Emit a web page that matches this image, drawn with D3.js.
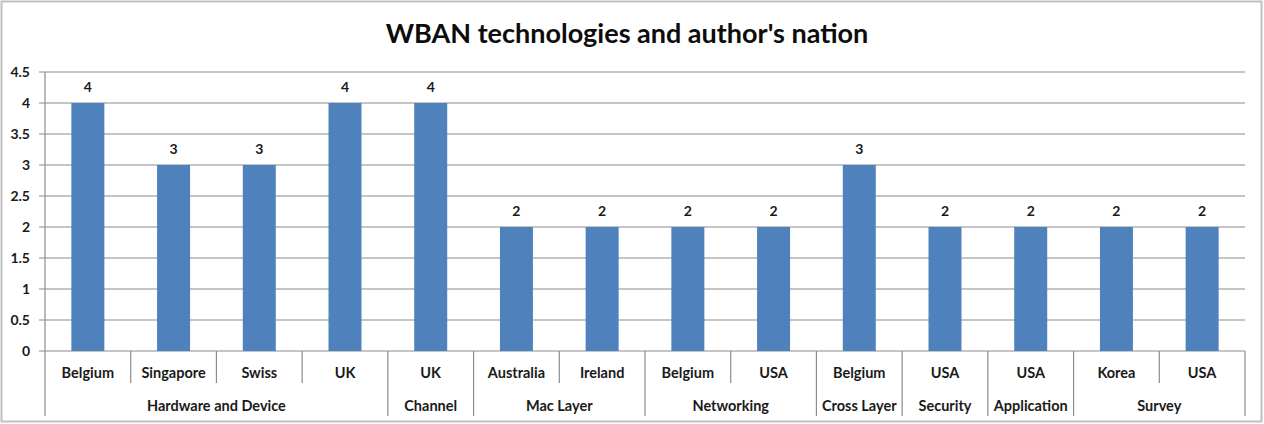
<!DOCTYPE html>
<html>
<head>
<meta charset="utf-8">
<script src="https://cdn.jsdelivr.net/npm/d3@7"></script>
<style>
  body { margin: 0; background: #fff; }
  svg { display: block; font-family: Lato, "Open Sans", sans-serif; }
</style>
</head>
<body>
<svg id="chart" width="1264" height="424"></svg>
<script>
  var nations = ['Belgium', 'Singapore', 'Swiss', 'UK', 'UK', 'Australia', 'Ireland',
    'Belgium', 'USA', 'Belgium', 'USA', 'USA', 'Korea', 'USA'];
  var groups = ['Hardware and Device', 'Hardware and Device', 'Hardware and Device', 'Hardware and Device',
    'Channel', 'Mac Layer', 'Mac Layer', 'Networking', 'Networking', 'Cross Layer',
    'Security', 'Application', 'Survey', 'Survey'];
  var counts = [4, 3, 3, 4, 4, 2, 2, 2, 2, 3, 2, 2, 2, 2];
  var yTicks = [0, 0.5, 1, 1.5, 2, 2.5, 3, 3.5, 4, 4.5];

  ;(function() {
    var svg = d3.select('#chart');
    var plotLeft = 45, plotRight = 1245, plotTop = 72, plotBottom = 351;
    var ink = '#1a1a1a';

    // outer frame
    svg.append('rect')
      .attr('x', 1.5).attr('y', 1.5)
      .attr('width', 1260).attr('height', 420)
      .attr('fill', '#fff')
      .attr('stroke', '#bfbfbf')
      .attr('stroke-width', 2);

    svg.append('text')
      .attr('x', 627).attr('y', 43)
      .attr('text-anchor', 'middle')
      .attr('font-size', 27)
      .attr('font-weight', 'bold')
      .attr('fill', '#0d0d0d')
      .text("WBAN technologies and author's nation");

    var idx = d3.range(counts.length);
    var x = d3.scaleBand().domain(idx).range([plotLeft, plotRight]);
    var y = d3.scaleLinear().domain([0, 4.5]).range([plotBottom, plotTop]);

    // gridlines
    svg.append('g').selectAll('line')
      .data(yTicks)
      .join('line')
      .attr('x1', plotLeft - 6).attr('x2', plotRight)
      .attr('y1', function(d) { return y(d); })
      .attr('y2', function(d) { return y(d); })
      .attr('stroke', '#8c8c8c')
      .attr('stroke-width', 1.2);

    // y axis labels
    svg.append('g').selectAll('text')
      .data(yTicks)
      .join('text')
      .attr('x', plotLeft - 15)
      .attr('y', function(d) { return y(d) + 5; })
      .attr('text-anchor', 'end')
      .attr('font-size', 14)
      .attr('font-weight', 'bold')
      .attr('fill', ink)
      .text(function(d) { return d; });

    // y axis line
    svg.append('line')
      .attr('x1', plotLeft).attr('x2', plotLeft)
      .attr('y1', plotTop).attr('y2', plotBottom)
      .attr('stroke', '#8c8c8c')
      .attr('stroke-width', 1.2);

    var barW = 33;
    svg.append('g').selectAll('rect')
      .data(idx)
      .join('rect')
      .attr('x', function(i) { return x(i) + x.bandwidth() / 2 - barW / 2; })
      .attr('y', function(i) { return y(counts[i]); })
      .attr('width', barW)
      .attr('height', function(i) { return y(0) - y(counts[i]); })
      .attr('fill', '#4f81bd');

    svg.append('g').selectAll('text')
      .data(idx)
      .join('text')
      .attr('x', function(i) { return x(i) + x.bandwidth() / 2; })
      .attr('y', function(i) { return y(counts[i]) - 11; })
      .attr('text-anchor', 'middle')
      .attr('font-size', 14)
      .attr('font-weight', 'bold')
      .attr('fill', ink)
      .text(function(i) { return counts[i]; });

    // category axis: nations row
    var axis = svg.append('g');
    var row1 = 383, row2 = 416;

    axis.selectAll('text.nation')
      .data(idx)
      .join('text')
      .attr('class', 'nation')
      .attr('x', function(i) { return x(i) + x.bandwidth() / 2; })
      .attr('y', 378)
      .attr('text-anchor', 'middle')
      .attr('font-size', 14.5)
      .attr('font-weight', 'bold')
      .attr('fill', ink)
      .text(function(i) { return nations[i]; });

    // group spans
    var spans = [];
    idx.forEach(function(i) {
      var last = spans[spans.length - 1];
      if (last && last.name === groups[i]) last.end = i;
      else spans.push({ name: groups[i], start: i, end: i });
    });

    axis.selectAll('text.group')
      .data(spans)
      .join('text')
      .attr('class', 'group')
      .attr('x', function(s) { return (x(s.start) + x(s.end) + x.bandwidth()) / 2; })
      .attr('y', 411)
      .attr('text-anchor', 'middle')
      .attr('font-size', 14.5)
      .attr('font-weight', 'bold')
      .attr('fill', ink)
      .text(function(s) { return s.name; });

    // separators: inside a group short, between groups long
    var bounds = d3.range(counts.length + 1);
    axis.selectAll('line.sep')
      .data(bounds)
      .join('line')
      .attr('class', 'sep')
      .attr('x1', function(b) { return b < counts.length ? x(b) : plotRight; })
      .attr('x2', function(b) { return b < counts.length ? x(b) : plotRight; })
      .attr('y1', plotBottom)
      .attr('y2', function(b) {
        var isGroupEdge = b === 0 || b === counts.length || groups[b] !== groups[b - 1];
        return isGroupEdge ? row2 : row1;
      })
      .attr('stroke', '#8c8c8c')
      .attr('stroke-width', 1.2);
  })();
</script>
</body>
</html>
